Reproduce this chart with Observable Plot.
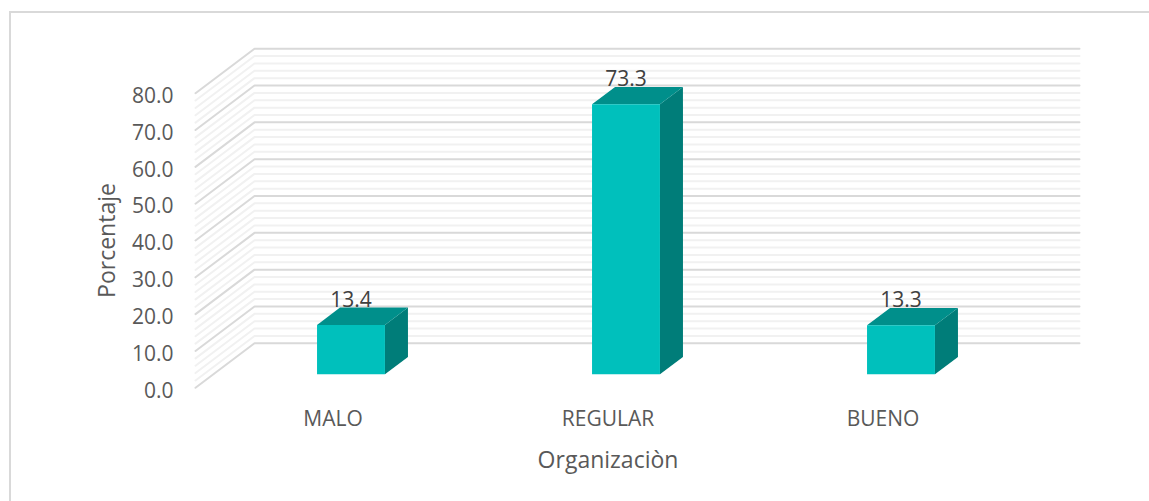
<!DOCTYPE html>
<html><head><meta charset="utf-8">
<script src="https://cdn.jsdelivr.net/npm/d3@7"></script>
<script src="https://cdn.jsdelivr.net/npm/@observablehq/plot@0.6"></script>
<style>
html,body{margin:0;padding:0;background:#fff;overflow:hidden}
#frame{position:absolute;left:9px;top:11px;right:-10px;bottom:-10px;border:2px solid #d9d9d9;box-sizing:border-box}
#chart{position:absolute;left:0;top:0}
</style></head><body>
<div id="frame"></div><div id="chart"></div>
<script>
const categories = ["MALO", "REGULAR", "BUENO"];
const values = [13.4, 73.3, 13.3];
const majorTicks = [0, 10, 20, 30, 40, 50, 60, 70, 80];
const minorTicks = [2,4,6,8,12,14,16,18,22,24,26,28,32,34,36,38,42,44,46,48,52,54,56,58,62,64,66,68,72,74,76,78];
const xTitle = "Organizaciòn";
const yTitle = "Porcentaje";

// oblique projection: full wall depth expressed in scale units
const depthX = 59 / 275, depthY = 44.5 / 3.683;
const P = (cat, val, d) => ({x: cat + d * depthX, y: val + d * depthY});
const barW = 0.247, d0 = 0.305, d1 = 0.695;

const wall = t => [P(0, t, 0), P(0, t, 1), P(3, t, 1)].map(p => ({...p, t}));
const poly = (fill, fn) => Plot.line(categories.flatMap((c, i) => fn(i + 0.5 - barW / 2, i + 0.5 + barW / 2, values[i]).map(p => ({...p, c}))),
  {x: "x", y: "y", z: "c", fill, stroke: "none", curve: "linear-closed"});

const plot = Plot.plot({
  width: 1149, height: 501,
  marginLeft: 195, marginRight: 129, marginTop: 92.7, marginBottom: 113.7,
  style: {background: "transparent", fontFamily: "'Open Sans', sans-serif"},
  x: {domain: [0, 3]},
  y: {domain: [0, 80]},
  marks: [
    Plot.line(minorTicks.flatMap(wall), {x: "x", y: "y", z: "t", stroke: "#f1f1f1", strokeWidth: 2}),
    Plot.line(majorTicks.flatMap(wall), {x: "x", y: "y", z: "t", stroke: "#d9d9d9", strokeWidth: 2}),
    Plot.axisY({ticks: majorTicks, tickFormat: d => d.toFixed(1), tickSize: 0, tickPadding: 22, dy: 3,
      label: null, fontSize: 21, fill: "#595959"}),
    Plot.axisX({ticks: [0.5, 1.5, 2.5], tickFormat: d => categories[d - 0.5], tickSize: 0, tickPadding: 23,
      label: null, fontSize: 21, fill: "#595959"}),
    Plot.text([xTitle], {frameAnchor: "bottom", dy: 80, fontSize: 23, fill: "#595959"}),
    Plot.text([yTitle], {frameAnchor: "left", textAnchor: "middle", dx: -88, rotate: -90, fontSize: 23, fill: "#595959"}),
    poly("#007d79", (l, r, v) => [P(r, 0, d0), P(r, 0, d1), P(r, v, d1), P(r, v, d0)]),
    poly("#008f8b", (l, r, v) => [P(l, v, d0), P(r, v, d0), P(r, v, d1), P(l, v, d1)]),
    poly("#00c0bc", (l, r, v) => [P(l, 0, d0), P(r, 0, d0), P(r, v, d0), P(l, v, d0)]),
    Plot.text(categories.map((c, i) => ({...P(i + 0.5, values[i], d0), label: values[i].toFixed(1)})),
      {x: "x", y: "y", text: "label", dy: -25, fontSize: 21, fill: "#404040"})
  ]
});
document.getElementById("chart").append(plot);
</script></body></html>
